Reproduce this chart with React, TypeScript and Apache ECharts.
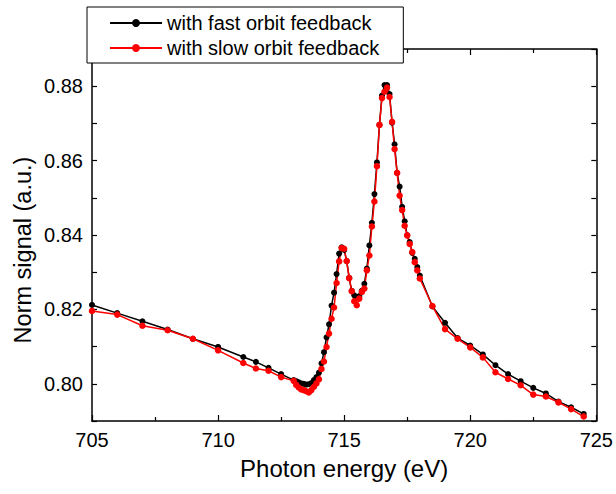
import React, { useEffect, useRef } from "react";
import * as echarts from "echarts";

const energies = [
  705.0, 706.0, 707.0, 708.0, 709.0, 710.0, 711.0, 711.5, 712.0, 712.5,
  713.0, 713.1, 713.2, 713.3, 713.4, 713.5, 713.6, 713.7, 713.8, 713.9,
  714.0, 714.1, 714.2, 714.3, 714.4, 714.5, 714.6, 714.7, 714.8, 714.9,
  715.0, 715.1, 715.2, 715.3, 715.4, 715.5, 715.6, 715.7, 715.8, 715.9,
  716.0, 716.1, 716.2, 716.3, 716.4, 716.5, 716.6, 716.7, 716.8, 716.9,
  717.0, 717.1, 717.2, 717.3, 717.4, 717.5, 717.6, 717.7, 717.8, 717.9,
  718.0, 718.5, 719.0, 719.5, 720.0, 720.5, 721.0, 721.5, 722.0, 722.5,
  723.0, 723.5, 724.0, 724.5,
];

const fastFeedback = [
  0.8212, 0.819, 0.8168, 0.8146, 0.8121, 0.8099, 0.8072, 0.8059, 0.8043, 0.8026,
  0.801, 0.8007, 0.8004, 0.8001, 0.8, 0.7998, 0.7999, 0.8002, 0.801, 0.8018,
  0.803, 0.8055, 0.8085, 0.8125, 0.816, 0.821, 0.8245, 0.8295, 0.835, 0.8367,
  0.836, 0.833, 0.8285, 0.825, 0.8238, 0.8232, 0.8236, 0.825, 0.8269, 0.831,
  0.8372, 0.8433, 0.851, 0.8595, 0.8696, 0.8775, 0.8803, 0.8803, 0.8779, 0.8702,
  0.8644, 0.8567, 0.853, 0.8476, 0.8437, 0.8399, 0.8381, 0.8352, 0.8336, 0.8314,
  0.8291, 0.8208, 0.8164, 0.8123, 0.8103, 0.8079, 0.805, 0.8026, 0.8007, 0.7989,
  0.7974, 0.7952, 0.7937, 0.7919,
];

const slowFeedback = [
  0.8196, 0.8186, 0.8156, 0.8144, 0.8121, 0.809, 0.8056, 0.8041, 0.8035, 0.8018,
  0.8008, 0.7997, 0.799, 0.7985, 0.7983, 0.798, 0.7977, 0.7983, 0.7992, 0.8001,
  0.8012, 0.804, 0.806, 0.8099, 0.8135, 0.8175, 0.8205, 0.8271, 0.8329, 0.8365,
  0.8363, 0.833, 0.8284, 0.8249, 0.8222, 0.8211, 0.8229, 0.8247, 0.8256, 0.8305,
  0.8345, 0.8423, 0.849, 0.8585, 0.8696, 0.8768, 0.8785, 0.8796, 0.8771, 0.8704,
  0.8631, 0.8567, 0.8506, 0.8467, 0.8425, 0.8399, 0.8376, 0.8354, 0.8327, 0.8305,
  0.8283, 0.8209, 0.8147, 0.8121, 0.8098, 0.8071, 0.8031, 0.8013, 0.7996, 0.7971,
  0.7966, 0.795, 0.7932, 0.7912,
];

const seriesNames = ["with fast orbit feedback", "with slow orbit feedback"];
const xTitle = "Photon energy (eV)";
const yTitle = "Norm signal (a.u.)";

const FONT = "Liberation Sans, Arial, sans-serif";

export default function App() {
  const ref = useRef<HTMLDivElement>(null);
  useEffect(() => {
    document.body.style.margin = "0";
    if (!ref.current) return;
    const chart = echarts.init(ref.current, undefined, { renderer: "svg" });
    const axisLine = { show: true, lineStyle: { color: "#000", width: 1.5 } };
    const xCommon = {
      type: "value" as const,
      min: 705,
      max: 725,
      interval: 5,
      axisLine,
      axisTick: { show: true, inside: true, length: 6, lineStyle: { color: "#000", width: 1.2 } },
      minorTick: { show: true, splitNumber: 2, length: 4, lineStyle: { color: "#000", width: 1.2 } },
      splitLine: { show: false },
    };
    const yCommon = {
      type: "value" as const,
      min: 0.79,
      max: 0.89,
      interval: 0.01,
      axisLine,
      axisTick: { show: true, inside: true, length: 5, lineStyle: { color: "#000", width: 1.2 } },
      splitLine: { show: false },
    };
    chart.setOption({
      animation: false,
      backgroundColor: "#fff",
      textStyle: { fontFamily: FONT },
      grid: { left: 92, right: 17, top: 49, bottom: 73 },
      legend: {
        orient: "vertical",
        left: 87,
        top: 7,
        padding: [6, 24, 5, 22],
        itemGap: 5,
        itemWidth: 52,
        itemHeight: 10,
        borderColor: "#000",
        borderWidth: 1,
        backgroundColor: "#fff",
        textStyle: { fontSize: 20, color: "#000", fontFamily: FONT },
        data: seriesNames,
      },
      graphic: [
        {
          type: "text",
          x: 23,
          y: 250,
          rotation: Math.PI / 2,
          style: {
            text: yTitle,
            fontSize: 23.5,
            fontFamily: FONT,
            fill: "#000",
            textAlign: "center",
            textVerticalAlign: "middle",
          },
        },
      ],
      xAxis: [
        {
          ...xCommon,
          position: "bottom",
          name: xTitle,
          nameLocation: "middle",
          nameGap: 35,
          nameTextStyle: { fontSize: 24, color: "#000", fontFamily: FONT },
          axisLabel: { color: "#000", fontSize: 20, margin: 9, fontFamily: FONT },
        },
        {
          ...xCommon,
          position: "top",
          axisLabel: { show: false },
        },
      ],
      yAxis: [
        {
          ...yCommon,
          position: "left",
          axisLabel: {
            color: "#000",
            fontSize: 20,
            margin: 9,
            fontFamily: FONT,
            formatter: (v: number) => {
              const k = Math.round(v * 100);
              if (k % 2 !== 0 || k < 80 || k > 88) return "";
              return (k / 100).toFixed(2);
            },
          },
        },
        {
          ...yCommon,
          position: "right",
          axisLabel: { show: false },
        },
      ],
      series: [
        {
          name: seriesNames[0],
          type: "line",
          data: energies.map((e, i) => [e, fastFeedback[i]]),
          symbol: "circle",
          symbolSize: 6,
          showAllSymbol: true,
          itemStyle: { color: "#000" },
          lineStyle: { color: "#000", width: 1.5 },
        },
        {
          name: seriesNames[1],
          type: "line",
          data: energies.map((e, i) => [e, slowFeedback[i]]),
          symbol: "circle",
          symbolSize: 6.5,
          showAllSymbol: true,
          itemStyle: { color: "#ff0000" },
          lineStyle: { color: "#ff0000", width: 1.5 },
        },
      ],
    });
    return () => chart.dispose();
  }, []);
  return <div ref={ref} style={{ width: 616, height: 494 }} />;
}
